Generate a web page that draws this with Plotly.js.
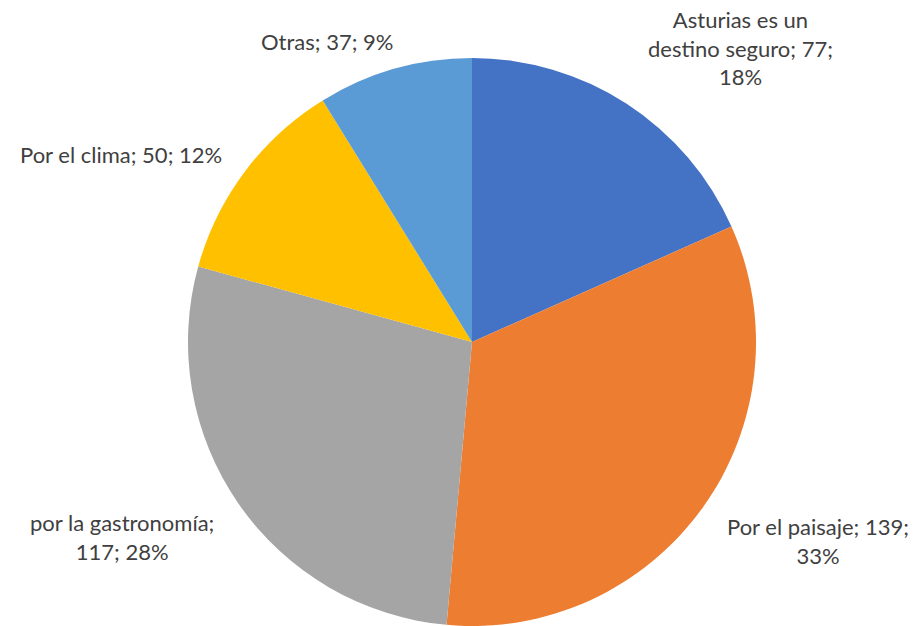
<!DOCTYPE html>
<html>
<head>
<meta charset="utf-8">
<script src="https://cdn.plot.ly/plotly-3.0.1.min.js"></script>
<style>html,body{margin:0;padding:0;background:#fff;}#chart{width:923px;height:626px;}</style>
</head>
<body>
<div id="chart"></div>
<script>
const categories = ["Asturias es un destino seguro", "Por el paisaje", "por la gastronomía", "Por el clima", "Otras"];
const values = [77, 139, 117, 50, 37];
const colors = ["#4472C4", "#ED7D31", "#A5A5A5", "#FFC000", "#5B9BD5"];

const total = values.reduce((a, b) => a + b, 0);
const pct = values.map(v => Math.round(v / total * 100) + "%");

// label layout (wrapping + placement), px in the 923x626 canvas
const labelPos = [
  {x: 740, y: 48, wrap: t => t.replace("un destino", "un<br>destino").replace(/; (\d+%)$/, ";<br>$1")},
  {x: 818, y: 541, wrap: t => t.replace(/; (\d+%)$/, ";<br>$1")},
  {x: 122, y: 537, wrap: t => t.replace("; ", ";<br>")},
  {x: 121, y: 155, wrap: t => t},
  {x: 327, y: 42, wrap: t => t}
];

const W = 923, H = 626;
const cx = 472, cy = 342, r = 284;

const annotations = categories.map((c, i) => {
  const txt = c + "; " + values[i] + "; " + pct[i];
  const p = labelPos[i];
  return {
    text: p.wrap(txt),
    x: p.x / W, y: 1 - p.y / H, xref: "paper", yref: "paper",
    xanchor: "center", yanchor: "middle", showarrow: false, align: "center",
    font: {family: "Lato, 'Open Sans', sans-serif", size: 22, color: "#404040"}
  };
});

const trace = {
  type: "pie",
  labels: categories,
  values: values,
  sort: false,
  direction: "clockwise",
  rotation: 0,
  textinfo: "none",
  hoverinfo: "label+value+percent",
  marker: {colors: colors, line: {color: "#ffffff", width: 0}},
  domain: {x: [(cx - r) / W, (cx + r) / W], y: [(H - cy - r) / H, (H - cy + r) / H]},
  showlegend: false
};

Plotly.newPlot("chart", [trace], {
  width: W, height: H,
  margin: {l: 0, r: 0, t: 0, b: 0},
  paper_bgcolor: "#ffffff",
  showlegend: false,
  annotations: annotations
}, {displayModeBar: false, staticPlot: true});
</script>
</body>
</html>
